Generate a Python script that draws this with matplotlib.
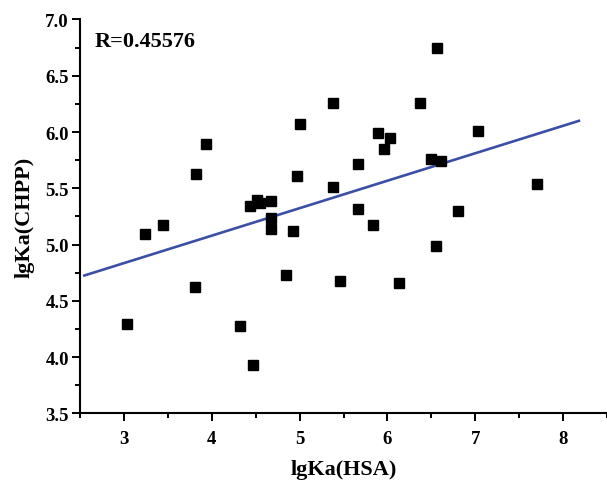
import numpy as np
import matplotlib.pyplot as plt
from matplotlib.ticker import MultipleLocator

plt.switch_backend("agg")
plt.rcParams['font.family'] = ['Liberation Serif', 'DejaVu Serif']
plt.rcParams['font.weight'] = 'bold'

# lgKa values, HSA vs CHPP
lgka_hsa = [3.03, 3.24, 3.44, 3.81, 3.82, 3.93, 4.32, 4.47, 4.43, 4.52,
            4.555, 4.67, 4.67, 4.67, 4.85, 4.92, 4.965, 5.00, 5.38, 5.38,
            5.46, 5.66, 5.66, 5.84, 5.89, 5.96, 6.03, 6.13, 6.37, 6.50,
            6.55, 6.56, 6.61, 6.80, 7.03, 7.70]
lgka_chpp = [4.29, 5.09, 5.17, 4.62, 5.63, 5.89, 4.28, 3.93, 5.345, 5.40,
             5.37, 5.39, 5.24, 5.14, 4.73, 5.12, 5.61, 6.07, 6.26, 5.51,
             4.68, 5.72, 5.32, 5.17, 5.99, 5.85, 5.95, 4.66, 6.26, 5.76,
             4.99, 6.75, 5.74, 5.30, 6.01, 5.54]
fit_range = [2.55, 8.18]
r_label = "R=0.45576"

x = np.array(lgka_hsa)
y = np.array(lgka_chpp)
slope, intercept = np.polyfit(x, y, 1)
fx = np.array(fit_range)

fig = plt.figure(figsize=(6.07, 4.81), dpi=100)
ax = fig.add_axes([0.1318, 0.1387, 0.8682, 0.8187])

ax.plot(fx, slope * fx + intercept, color='#3b4fa6', linewidth=1.9, zorder=2)
ax.plot(x, y, linestyle='none', marker='s', markersize=7.6,
        color='black', zorder=3)

ax.text(0.028, 0.945, r_label, transform=ax.transAxes, fontsize=16,
        fontweight='bold', va='center', ha='left')

ax.set_xlim(2.5, 8.5)
ax.set_ylim(3.5, 7.0)
ax.xaxis.set_major_locator(MultipleLocator(1))
ax.xaxis.set_minor_locator(MultipleLocator(0.5))
ax.yaxis.set_major_locator(MultipleLocator(0.5))
ax.yaxis.set_minor_locator(MultipleLocator(0.25))

for side in ['top', 'right']:
    ax.spines[side].set_visible(False)
for side in ['left', 'bottom']:
    ax.spines[side].set_linewidth(1.5)

ax.tick_params(which='major', direction='out', length=6, width=1.4,
               labelsize=13.5)
ax.tick_params(which='minor', direction='out', length=3.5, width=1.4)
ax.tick_params(axis='x', pad=6)
ax.tick_params(axis='y', pad=2)

ax.set_xlabel("lgKa(HSA)", fontsize=16, fontweight='bold', labelpad=9)
ax.set_ylabel("lgKa(CHPP)", fontsize=16, fontweight='bold', labelpad=8)

plt.savefig("out.png", dpi=100)
